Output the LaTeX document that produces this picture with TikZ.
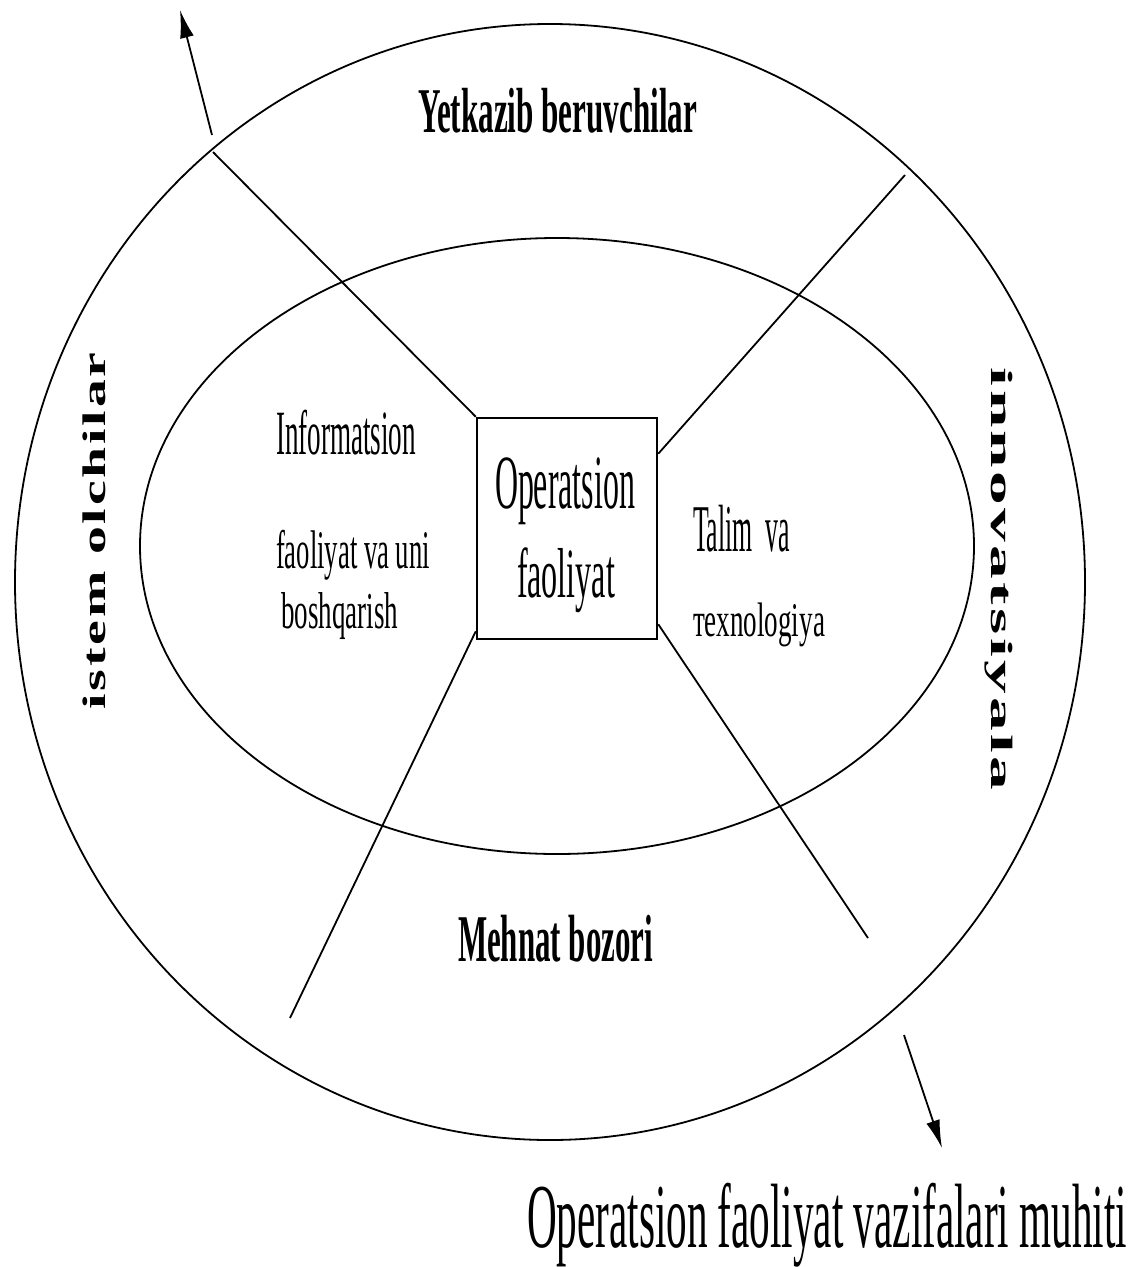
\documentclass[tikz,border=0pt]{standalone}
\usepackage{fontspec}
\setmainfont{Liberation Serif}
\usepackage{graphicx}
\usetikzlibrary{shapes.geometric,arrows.meta}
\newcommand{\fitT}[3]{\resizebox*{#1pt}{#2pt}{#3}}
\begin{document}
\begin{tikzpicture}[x=1pt,y=-1pt,
  ln/.style={line width=1.8pt},
  ell/.style={draw, ellipse, line width=1.8pt, inner sep=0pt, outer sep=0pt},
  txt/.style={inner sep=0pt, outer sep=0pt, anchor=north west},
  vtxt/.style={inner sep=0pt, outer sep=0pt, anchor=center},
  arr/.style={line width=1.8pt, -{Latex[length=28pt,width=14pt]}}]
\useasboundingbox (0,0) rectangle (1134,1267);
\node[ell, minimum width=1070pt, minimum height=1116pt] (outer) at (550,582) {};
\node[ell, minimum width=834pt, minimum height=616pt] (inner) at (557,546) {};
\node[draw, line width=2.5pt, minimum width=180pt, minimum height=221pt, inner sep=0pt] (box) at (567,528.5) {};
\coordinate (ulE) at (213,152);
\coordinate (urE) at (905,175);
\coordinate (llE) at (290,1018);
\coordinate (lrE) at (868,938);
\draw[ln] (box.north west) -- (ulE);
\draw[ln] ([yshift=-37pt]box.north east) -- (urE);
\draw[ln] ([yshift=9pt]box.south west) -- (llE);
\draw[ln] ([yshift=16pt]box.south east) -- (lrE);
\coordinate (a1s) at (212,135); \coordinate (a1e) at (180,10);
\coordinate (a2s) at (904,1035); \coordinate (a2e) at (942,1148);
\draw[arr] (a1s) -- (a1e);
\draw[arr] (a2s) -- (a2e);
% texts
\node[txt] (yet) at (418,88) {\fitT{279}{45}{\bfseries Yetkazib beruvchilar}};
\node[txt] (meh) at (458,915) {\fitT{195}{47}{\bfseries Mehnat bozori}};
\node[txt] (inf1) at (276,410) {\fitT{140}{45}{Informatsion}};
\node[txt] (inf2) at (276,530) {\fitT{154}{50}{faoliyat va uni}};
\node[txt] (inf3) at (281,593) {\fitT{117}{47}{boshqarish}};
\node[txt] (op1) at (495,458) {\fitT{140}{67}{Operatsion}};
\node[txt] (op2) at (517,548) {\fitT{98}{65}{faoliyat}};
\node[txt] (tal1) at (693,505) {\fitT{97}{47}{Talim\ \ va}};
\node[txt] (tal2) at (693,603) {\fitT{132}{44}{тexnologiya}};
\node[vtxt, rotate=90] (ist) at (94,531) {\fitT{357}{23}{\bfseries\addfontfeature{LetterSpace=5}istem olchilar}};
\node[vtxt, rotate=-90] (inn) at (999,579) {\fitT{422}{28}{\bfseries\addfontfeature{LetterSpace=5}innovatsiyala}};
\node[txt] (bot) at (527,1183) {\fitT{600}{84}{Operatsion faoliyat vazifalari muhiti}};
\end{tikzpicture}
\end{document}
